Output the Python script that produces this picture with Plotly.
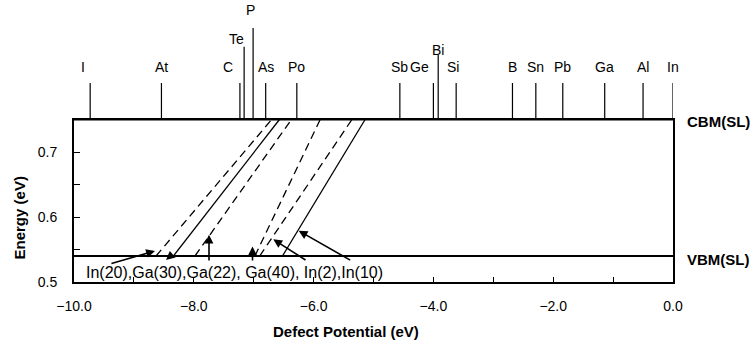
import plotly.graph_objects as go

# ---------------- data ----------------
elements = ["I", "At", "C", "Te", "P", "As", "Po", "Sb", "Ge", "Bi", "Si",
            "B", "Sn", "Pb", "Ga", "Al", "In"]
potentials = [-9.73, -8.54, -7.23, -7.16, -7.01, -6.80, -6.28, -4.56, -4.00,
              -3.92, -3.62, -2.68, -2.29, -1.84, -1.14, -0.50, 0.00]
# stick length / label height in the top strip (pixel units above CBM)
stick_len = [36.5, 36.5, 36.5, 72.8, 91.5, 36.5, 36.5, 36.5, 36.5, 64.5, 36.5,
             36.5, 36.5, 36.5, 36.5, 36.5, 36.5]
label_h = [52.5, 52.5, 52.5, 80.5, 109.5, 52.5, 52.5, 52.5, 52.5, 69.5, 52.5,
           52.5, 52.5, 52.5, 52.5, 52.5, 52.5]
label_shift = [-7, 0, -12, -8, -3, 0, 0, 0, -14, 0, -3, 0, 0, 0, 0, 0, 0]

defects = ["In(20)", "Ga(30)", "Ga(22)", "Ga(40)", "In(2)", "In(10)"]
defect_dash = ["dash", "solid", "dash", "dash", "dash", "solid"]
x_at_vbm = [-8.63, -8.34, -7.98, -6.98, -6.90, -6.52]
x_at_cbm = [-6.70, -6.57, -6.37, -5.89, -5.36, -5.14]
E_VBM = 0.54
E_CBM = 0.75

FONT = "Liberation Sans, Arial, Helvetica, sans-serif"

fig = go.Figure()

# defect level lines
for name, d, x0, x1 in zip(defects, defect_dash, x_at_vbm, x_at_cbm):
    fig.add_trace(go.Scatter(
        x=[x0, x1], y=[E_VBM, E_CBM], mode="lines", name=name,
        line=dict(color="black", width=1.3,
                  dash="8px,5px" if d == "dash" else "solid"),
        showlegend=False, hoverinfo="skip"))

# band edges
fig.add_trace(go.Scatter(x=[-10, 0], y=[E_CBM, E_CBM], mode="lines",
                         line=dict(color="black", width=2.2),
                         showlegend=False, hoverinfo="skip"))
fig.add_trace(go.Scatter(x=[-10, 0], y=[E_VBM, E_VBM], mode="lines",
                         line=dict(color="black", width=2),
                         showlegend=False, hoverinfo="skip"))

# element sticks (top strip)
sx, sy = [], []
for p, h in zip(potentials, stick_len):
    sx += [p, p, None]
    sy += [0, h, None]
fig.add_trace(go.Scatter(x=sx, y=sy, mode="lines", xaxis="x2", yaxis="y2",
                         line=dict(color="black", width=1.2),
                         showlegend=False, hoverinfo="skip"))

annotations = []
for el, p, h, s in zip(elements, potentials, label_h, label_shift):
    annotations.append(dict(x=p, y=h, xref="x2", yref="y2", text=el,
                            showarrow=False, xshift=s, xanchor="center",
                            yanchor="middle",
                            font=dict(family=FONT, size=14, color="black")))

# labels at band edges
annotations.append(dict(x=0, y=E_CBM, xref="x", yref="y", text="<b>CBM(SL)</b>",
                        showarrow=False, xanchor="left", yanchor="middle",
                        xshift=12, yshift=-2,
                        font=dict(family=FONT, size=15, color="black")))
annotations.append(dict(x=0, y=E_VBM, xref="x", yref="y", text="<b>VBM(SL)</b>",
                        showarrow=False, xanchor="left", yanchor="middle",
                        xshift=12, yshift=-3,
                        font=dict(family=FONT, size=15, color="black")))

# defect name text
annotations.append(dict(x=-9.84, y=0.5153, xref="x", yref="y",
                        text="In(20),Ga(30),Ga(22), Ga(40), In(2),In(10)",
                        showarrow=False, xanchor="left", yanchor="middle",
                        font=dict(family=FONT, size=16, color="black")))

# arrows (tip x,y ; tail ax,ay)
arrows = [
    (-8.648, 0.5478, -9.40, 0.5277),
    (-8.464, 0.5339, -8.347, 0.5432),
    (-7.746, 0.5726, -7.746, 0.5308),
    (-7.020, 0.5545, -7.020, 0.5308),
    (-6.673, 0.5656, -6.110, 0.5324),
    (-6.249, 0.5788, -5.364, 0.5324),
]
for x, y, ax, ay in arrows:
    annotations.append(dict(x=x, y=y, ax=ax, ay=ay, xref="x", yref="y",
                            axref="x", ayref="y", showarrow=True, text="",
                            arrowhead=2, arrowsize=1.1, arrowwidth=1.6,
                            arrowcolor="black", standoff=0, startstandoff=0))

# axis titles
annotations.append(dict(x=-0.0902, y=0.2287, xref="paper", yref="paper",
                        text="<b>Energy (eV)</b>", textangle=-90,
                        showarrow=False, xanchor="center", yanchor="middle",
                        font=dict(family=FONT, size=15, color="black")))
annotations.append(dict(x=0.454, y=-0.177, xref="paper", yref="paper",
                        text="<b>Defect Potential (eV)</b>",
                        showarrow=False, xanchor="center", yanchor="middle",
                        font=dict(family=FONT, size=15, color="black")))

main_top = (282 - 119.5) / 282

fig.update_layout(
    width=753, height=345,
    margin=dict(l=74, r=80, t=0, b=63),
    paper_bgcolor="white", plot_bgcolor="white",
    font=dict(family=FONT, size=14, color="black"),
    annotations=annotations,
    xaxis=dict(range=[-10, 0], showgrid=False, zeroline=False,
               showline=True, linecolor="black", linewidth=2, mirror=True,
               ticks="inside", ticklen=5, tickwidth=1.2, tickcolor="black",
               tick0=-10, dtick=2, tickformat=".1f",
               ticklabelstandoff=10,
               minor=dict(dtick=1, ticks="inside", ticklen=5,
                          tickwidth=1.2, tickcolor="black", showgrid=False),
               tickfont=dict(family=FONT, size=14, color="black")),
    yaxis=dict(range=[0.5, 0.75], domain=[0, main_top], showgrid=False,
               zeroline=False, showline=True, linecolor="black", linewidth=2,
               mirror=True, ticks="inside", ticklen=6, tickwidth=1.2,
               tickcolor="black", tick0=0.5, dtick=0.1, tickformat=".1f",
               ticklabelstandoff=12,
               minor=dict(dtick=0.05, ticks="inside", ticklen=6,
                          tickwidth=1.2, tickcolor="black", showgrid=False),
               tickfont=dict(family=FONT, size=14, color="black")),
    xaxis2=dict(matches="x", anchor="y2", visible=False, showgrid=False,
                zeroline=False),
    yaxis2=dict(domain=[main_top, 1], range=[0, 119.5], anchor="x2",
                visible=False, showgrid=False, zeroline=False),
)

fig.write_html("out.html",
               config={"displayModeBar": False},
               post_script="document.body.style.margin='0';"
                           "document.body.style.overflow='hidden';")
